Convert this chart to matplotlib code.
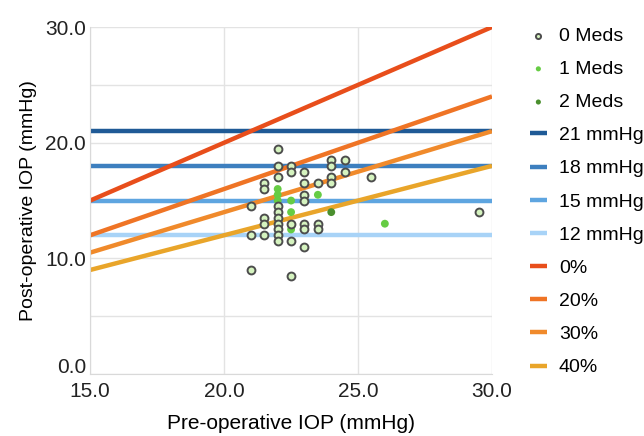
import matplotlib
matplotlib.use("Agg")
import matplotlib.pyplot as plt
import matplotlib.transforms as mtransforms
import numpy as np

# pre-op / post-op IOP per eye, grouped by number of meds
meds0_pre = [22, 22, 22.5, 22.5, 23, 22, 21.5, 21.5, 23, 23.5, 24, 24, 24.5, 24.5,
             24, 24, 25.5, 23, 23, 21, 22, 22, 22, 21.5, 21.5, 22, 22, 22, 22,
             21, 21.5, 22.5, 22.5, 23, 23, 23.5, 23.5, 23, 21, 22.5, 29.5]
meds0_post = [19.5, 18, 18, 17.5, 17.5, 17, 16.5, 16, 16.5, 16.5, 18.5, 18, 18.5, 17.5,
              17, 16.5, 17, 15.5, 15, 14.5, 14.5, 14, 13.5, 13.5, 13, 13, 12.5, 12, 11.5,
              12, 12, 13, 11.5, 13, 12.5, 13, 12.5, 11, 9, 8.5, 14]
meds1_pre = [22, 22, 22, 22.5, 22.5, 22.5, 23.5, 26]
meds1_post = [16, 15.5, 15, 15, 14, 12.5, 15.5, 13]
meds2_pre = [24]
meds2_post = [14]

target_levels = [21, 18, 15, 12]
target_labels = ["21 mmHg", "18 mmHg", "15 mmHg", "12 mmHg"]
target_colors = ["#1f5a96", "#3d7fbf", "#5ea5e0", "#a8d3f7"]

reductions = [0.0, 0.2, 0.3, 0.4]
reduction_labels = ["0%", "20%", "30%", "40%"]
reduction_colors = ["#e84e1b", "#ef7425", "#f08a2b", "#e9a52a"]

x_range = [15, 30]
x_ticks = [15, 20, 25, 30]
y_ticks = [0, 5, 10, 15, 20, 25, 30]

plt.rcParams.update({
    "font.family": ["Liberation Sans", "DejaVu Sans"],
    "font.size": 14,
})

fig = plt.figure(figsize=(6.44, 4.36), dpi=100)
ax = fig.add_axes([0.140, 0.142, 0.624, 0.796])

xs = np.array(x_range, dtype=float)
for level, label, color in zip(target_levels, target_labels, target_colors):
    ax.plot(xs, [level, level], color=color, linewidth=3.2, label=label,
            solid_capstyle="butt", zorder=2)
for red, label, color in zip(reductions, reduction_labels, reduction_colors):
    ax.plot(xs, xs * (1 - red), color=color, linewidth=3.2, label=label,
            solid_capstyle="butt", zorder=2)

ax.scatter(meds0_pre, meds0_post, s=32, facecolor="#d5f3bf", edgecolor="#4d4d4d",
           linewidths=1.4, label="0 Meds", zorder=4)
ax.scatter(meds1_pre, meds1_post, s=32, color="#66cc44", edgecolor="none",
           label="1 Meds", zorder=3)
ax.scatter(meds2_pre, meds2_post, s=32, color="#4a8f2e", edgecolor="none",
           label="2 Meds", zorder=3)

ax.set_xlim(15, 30)
ax.set_ylim(0, 30)
ax.set_xticks(x_ticks)
ax.set_xticklabels([f"{v:.1f}" for v in x_ticks])
ax.set_yticks(y_ticks)
ax.set_yticklabels([f"{v:.1f}" if v % 10 == 0 else "" for v in y_ticks])
ax.grid(True, color="#e3e3e3", linewidth=1.0, zorder=0)
ax.set_axisbelow(True)
ax.tick_params(length=0, colors="#222222", labelsize=15)
ax.tick_params(axis="x", pad=6)
ax.tick_params(axis="y", pad=3)
for side in ["top", "right"]:
    ax.spines[side].set_visible(False)
for side in ["left", "bottom"]:
    ax.spines[side].set_color("#d9d9d9")

# nudge the "0.0" label up a little, as in the original
zero_lbl = ax.get_yticklabels()[0]
zero_lbl.set_transform(zero_lbl.get_transform()
                       + mtransforms.ScaledTranslation(0, 6 / 72, fig.dpi_scale_trans))

ax.set_xlabel("Pre-operative IOP (mmHg)", fontsize=15, labelpad=9)
ax.set_ylabel("Post-operative IOP (mmHg)", fontsize=14, labelpad=6)

handles, labels = ax.get_legend_handles_labels()
order = ["0 Meds", "1 Meds", "2 Meds"] + target_labels + reduction_labels
h_map = dict(zip(labels, handles))
leg = ax.legend([h_map[k] for k in order], order, loc="upper left",
                bbox_to_anchor=(1.05, 1.05), frameon=False, fontsize=14,
                handlelength=0.9, handletextpad=0.6, labelspacing=0.8,
                markerscale=0.65)

fig.savefig("out.png", dpi=100)
